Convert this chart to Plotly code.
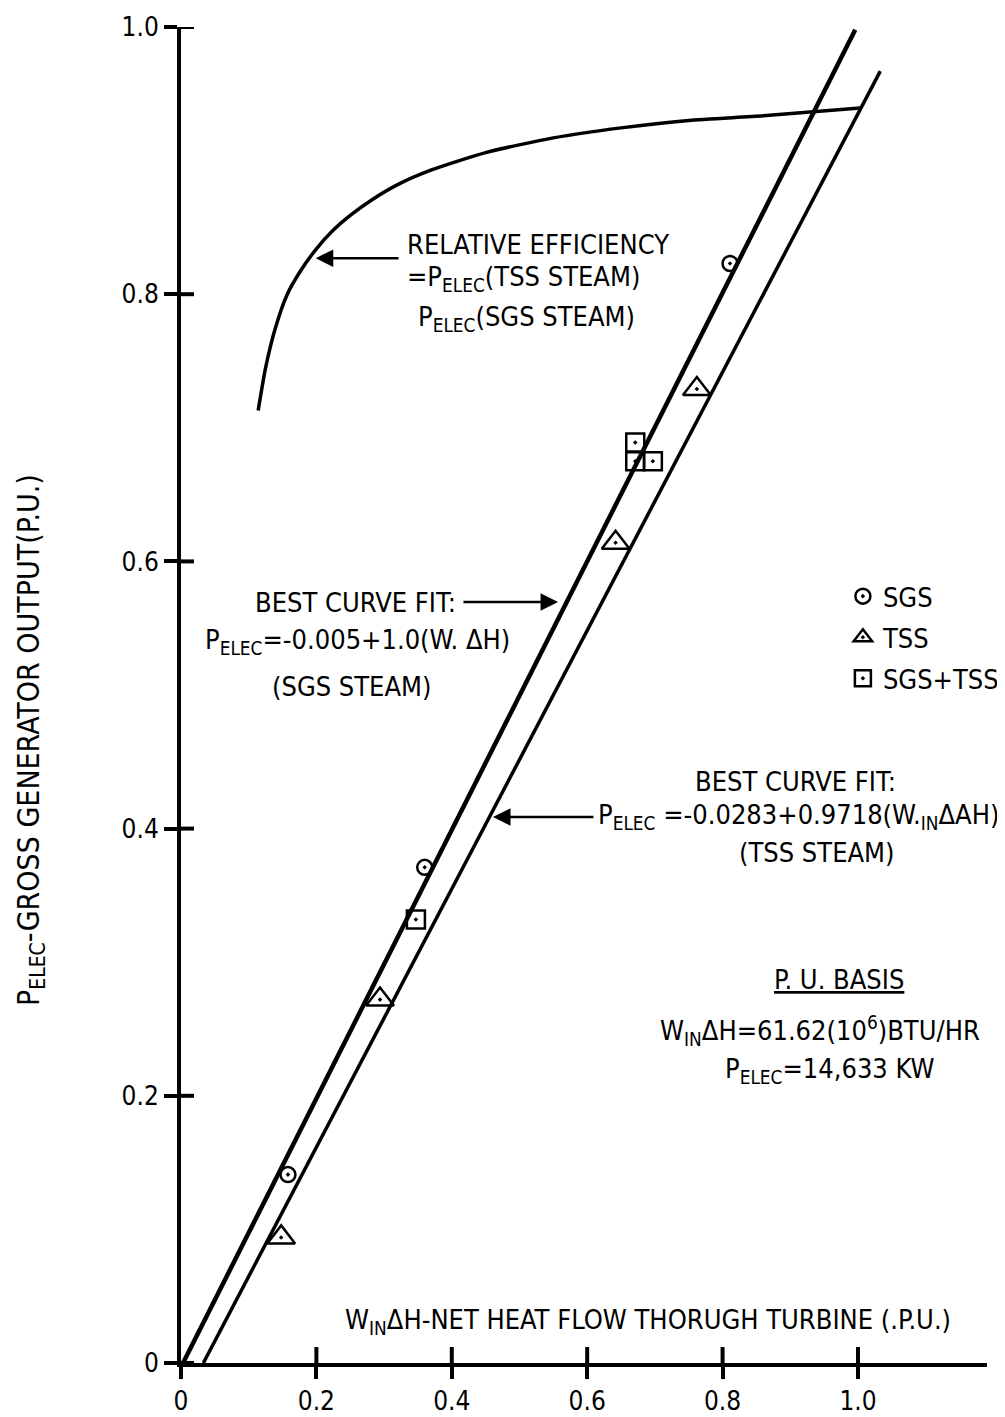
import plotly.graph_objects as go

# ---------------- data ----------------
sgs_x = [0.158, 0.360, 0.811, 0.999]
sgs_y = [0.141, 0.371, 0.823, 1.003]

tss_x = [0.148, 0.294, 0.642, 0.762]
tss_y = [0.094, 0.272, 0.614, 0.729]

mix_x = [0.347, 0.671, 0.671, 0.697]
mix_y = [0.332, 0.689, 0.675, 0.675]

sgs_fit_x = [0.003, 0.996]
sgs_fit_y = [0.0, 0.998]

tss_fit_x = [0.033, 1.033]
tss_fit_y = [0.0, 0.967]

eff_x = [0.114, 0.125, 0.139, 0.157, 0.176, 0.200, 0.225, 0.250, 0.280,
         0.320, 0.370, 0.450, 0.550, 0.650, 0.750, 0.860, 1.003]
eff_y = [0.713, 0.745, 0.774, 0.800, 0.817, 0.834, 0.848, 0.859, 0.870,
         0.882, 0.893, 0.906, 0.917, 0.9245, 0.930, 0.9335, 0.9394]

x_tick_vals = [0, 0.2, 0.4, 0.6, 0.8, 1.0]
x_tick_text = ["0", "0.2", "0.4", "0.6", "0.8", "1.0"]
y_tick_vals = [0, 0.2, 0.4, 0.6, 0.8, 1.0]
y_tick_text = ["0", "0.2", "0.4", "0.6", "0.8", "1.0"]

x_range = [0, 1.1906]
y_range = [0, 1.0]

FONT = "Liberation Sans Narrow, Arial Narrow, DejaVu Sans Condensed, sans-serif"
FS = 27

fig = go.Figure()

# fit lines and efficiency curve
fig.add_trace(go.Scatter(x=sgs_fit_x, y=sgs_fit_y, mode="lines",
                         line=dict(color="black", width=4.5), showlegend=False,
                         cliponaxis=False, hoverinfo="skip"))
fig.add_trace(go.Scatter(x=tss_fit_x, y=tss_fit_y, mode="lines",
                         line=dict(color="black", width=3.5), showlegend=False,
                         cliponaxis=False, hoverinfo="skip"))
fig.add_trace(go.Scatter(x=eff_x, y=eff_y, mode="lines",
                         line=dict(color="black", width=3.5, shape="spline", smoothing=0.6),
                         showlegend=False, cliponaxis=False, hoverinfo="skip"))

# data points
fig.add_trace(go.Scatter(x=sgs_x, y=sgs_y, mode="markers", name="SGS",
                         legendgroup="a",
                         marker=dict(symbol="circle-open-dot", size=15, color="black",
                                     line=dict(width=2.5, color="black")),
                         cliponaxis=False))
fig.add_trace(go.Scatter(x=tss_x, y=tss_y, mode="markers", name="TSS",
                         legendgroup="b",
                         marker=dict(symbol="triangle-up-open-dot", size=24, color="black",
                                     line=dict(width=2.5, color="black")),
                         cliponaxis=False))
fig.add_trace(go.Scatter(x=mix_x, y=mix_y, mode="markers", name="SGS+TSS",
                         legendgroup="c",
                         marker=dict(symbol="square-open-dot", size=18, color="black",
                                     line=dict(width=2.5, color="black")),
                         cliponaxis=False))

# crossing tick marks
shapes = []
for v in x_tick_vals[1:]:
    shapes.append(dict(type="line", xref="x", yref="y", ysizemode="pixel", yanchor=0,
                       x0=v, x1=v, y0=-16, y1=16, line=dict(color="black", width=4)))
for v in y_tick_vals:
    shapes.append(dict(type="line", yref="y", xref="x", xsizemode="pixel", xanchor=0,
                       y0=v, y1=v, x0=0, x1=13, line=dict(color="black", width=4)))

txt = dict(font=dict(family=FONT, size=FS, color="black"), showarrow=False,
           xref="x", yref="y", xanchor="left", yanchor="middle")
arr = dict(axref="x", ayref="y", xref="x", yref="y", text="", showarrow=True,
           arrowhead=2, arrowsize=1.4, arrowwidth=2.5, arrowcolor="black")

annotations = [
    dict(text="RELATIVE EFFICIENCY", x=0.331, y=0.837, **txt),
    dict(text="=P<sub>ELEC</sub>(TSS STEAM)", x=0.331, y=0.812, **txt),
    dict(text="P<sub>ELEC</sub>(SGS STEAM)", x=0.347, y=0.782, **txt),
    dict(text="BEST CURVE FIT:", x=0.1064, y=0.569, **txt),
    dict(text="P<sub>ELEC</sub>=-0.005+1.0(W. ΔH)", x=0.0325, y=0.540, **txt),
    dict(text="(SGS STEAM)", x=0.1315, y=0.506, **txt),
    dict(text="BEST CURVE FIT:", x=0.7563, y=0.435, **txt),
    dict(text="P<sub>ELEC</sub> =-0.0283+0.9718(W.<sub>IN</sub>ΔAH)", x=0.6135, y=0.409, **txt),
    dict(text="(TSS STEAM)", x=0.8213, y=0.382, **txt),
    dict(text="<u>P. U. BASIS</u>", x=0.873, y=0.287, **txt),
    dict(text="W<sub>IN</sub>ΔH=61.62(10<sup>6</sup>)BTU/HR", x=0.7046, y=0.249, **txt),
    dict(text="P<sub>ELEC</sub>=14,633 KW", x=0.8006, y=0.219, **txt),
    dict(text="W<sub>IN</sub>ΔH-NET HEAT FLOW THORUGH TURBINE (.P.U.)", x=0.2393, y=0.031, **txt),
    # arrows
    dict(x=0.199, y=0.827, ax=0.3235, ay=0.827, **arr),
    dict(x=0.557, y=0.5696, ax=0.415, ay=0.5696, **arr),
    dict(x=0.4609, y=0.4087, ax=0.6115, ay=0.4087, **arr),
    # y-axis title
    dict(text="P<sub>ELEC</sub>-GROSS GENERATOR OUTPUT(P.U.)", xref="paper", yref="paper",
         x=-0.1873, y=0.4663, textangle=-90, showarrow=False, xanchor="center", yanchor="middle",
         font=dict(family=FONT, size=30, color="black")),
]

# the page body has an 8px margin, so the figure is 8px smaller than the window
fig.update_layout(
    width=997, height=1409,
    margin=dict(l=173, r=18, t=19, b=54, autoexpand=False),
    paper_bgcolor="white", plot_bgcolor="white",
    font=dict(family=FONT, size=FS, color="black"),
    xaxis=dict(range=x_range, showgrid=False, zeroline=False, showline=True,
               linecolor="black", linewidth=4, ticks="outside", ticklen=12, tickwidth=4,
               tickcolor="black", tickvals=x_tick_vals, ticktext=x_tick_text,
               tickfont=dict(family=FONT, size=26), fixedrange=True),
    yaxis=dict(range=y_range, showgrid=False, zeroline=False, showline=True,
               linecolor="black", linewidth=4, ticks="outside", ticklen=13, tickwidth=4,
               tickcolor="black", tickvals=y_tick_vals, ticktext=y_tick_text,
               tickfont=dict(family=FONT, size=26), ticklabelstandoff=0, fixedrange=True),
    legend=dict(x=0.8212, y=0.592, xanchor="left", yanchor="top", bgcolor="rgba(0,0,0,0)",
                borderwidth=0, font=dict(family=FONT, size=FS), traceorder="grouped",
                tracegroupgap=3, itemwidth=30),
    shapes=shapes,
    annotations=annotations,
)

fig.write_html("out.html")
